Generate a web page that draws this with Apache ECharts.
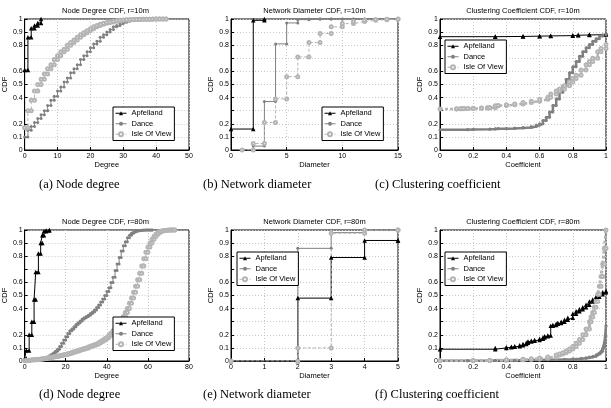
<!DOCTYPE html>
<html>
<head>
<meta charset="utf-8">
<script src="https://cdn.jsdelivr.net/npm/echarts@6/dist/echarts.min.js"></script>
<style>
  html, body { margin: 0; padding: 0; background: #fff; }
  #chart { width: 611px; height: 408px; }
</style>
</head>
<body>
<div id="chart"></div>
<script>
// series names and panel texts
const seriesNames = ['Apfelland', 'Dance', 'Isle Of View'];
const panelTitles = [
    'Node Degree CDF, r=10m', 'Network Diameter CDF, r=10m', 'Clustering Coefficient CDF, r=10m',
    'Node Degree CDF, r=80m', 'Network Diameter CDF, r=80m', 'Clustering Coefficient CDF, r=80m'
];
const captions = [
    '(a) Node degree', '(b) Network diameter', '(c) Clustering coefficient',
    '(d) Node degree', '(e) Network diameter', '(f) Clustering coefficient'
];
const xNames = ['Degree', 'Diameter', 'Coefficient', 'Degree', 'Diameter', 'Coefficient'];
const xMax = [50, 15, 1, 80, 5, 1];
const xStep = [10, 5, 0.2, 20, 1, 0.2];

// (a) node degree, r=10m
const degree10 = [0,1,2,3,4,5,6,7,8,9,10,11,12,13,14,15,16,17,18,19,20,21,22,23,24,25,26,27,28,29,30,31,32,33,34,35,36,37,38,39,40,41,42,43];
const apfDeg10X = [0, 1, 2, 3, 4, 5];
const apfDeg10 = [0.61, 0.86, 0.93, 0.95, 0.97, 1.0];
const danceDeg10 = [0.10,0.15,0.18,0.21,0.24,0.27,0.30,0.34,0.38,0.41,0.45,0.48,0.52,0.55,0.59,0.62,0.65,0.69,0.72,0.75,0.78,0.81,0.83,0.86,0.88,0.90,0.92,0.94,0.95,0.965,0.975,0.983,0.99,0.993,0.996,0.998,0.999,1.0,1.0,1.0,1.0];
const isleDeg10 = [0.17,0.30,0.38,0.45,0.50,0.54,0.58,0.62,0.65,0.69,0.72,0.75,0.77,0.80,0.82,0.84,0.86,0.88,0.895,0.91,0.925,0.94,0.95,0.96,0.967,0.973,0.978,0.983,0.987,0.99,0.992,0.994,0.995,0.996,0.997,0.998,0.998,0.999,0.999,1.0,1.0,1.0,1.0,1.0];

// (b) network diameter, r=10m
const apfDiam10X = [0, 2, 3];
const apfDiam10 = [0.16, 0.99, 1.0];
const diam10X = [1,2,3,4,5,6,7,8,9,10,11,12,13,14,15];
const danceDiam10 = [0, 0.03, 0.37, 0.81, 0.97, 0.995, 1, 1, 1, 1, 1, 1, 1, 1, 1];
const isleDiam10 = [0, 0.05, 0.21, 0.39, 0.56, 0.71, 0.82, 0.89, 0.94, 0.965, 0.98, 0.99, 0.995, 0.998, 1.0];

// (c) clustering coefficient, r=10m
const apfClust10X = [0, 0.333, 0.5, 0.6, 0.667, 0.8, 0.833, 0.9, 1.0];
const apfClust10 = [0.865, 0.867, 0.869, 0.871, 0.873, 0.876, 0.878, 0.881, 0.89];
const danceClust10X = [0,0.167,0.2,0.3,0.333,0.35,0.4,0.45,0.5,0.55,0.58,0.6,0.62,0.64,0.66,0.68,0.7,0.72,0.74,0.76,0.78,0.8,0.82,0.84,0.86,0.88,0.9,0.92,0.94,0.96,0.98,1.0];
const danceClust10 = [0.155,0.157,0.158,0.16,0.162,0.163,0.165,0.168,0.172,0.18,0.19,0.2,0.225,0.25,0.29,0.34,0.39,0.44,0.49,0.54,0.59,0.635,0.675,0.715,0.75,0.78,0.805,0.83,0.85,0.87,0.88,0.89];
const isleClust10X = [0,0.1,0.125,0.143,0.167,0.2,0.25,0.286,0.3,0.333,0.35,0.4,0.45,0.5,0.55,0.6,0.65,0.667,0.7,0.72,0.75,0.78,0.8,0.82,0.85,0.88,0.9,0.92,0.95,0.97,1.0];
const isleClust10 = [0.313,0.314,0.315,0.316,0.317,0.318,0.32,0.322,0.323,0.338,0.34,0.345,0.352,0.362,0.373,0.387,0.402,0.427,0.45,0.466,0.49,0.52,0.545,0.57,0.61,0.65,0.675,0.70,0.75,0.775,0.805];

// (d) node degree, r=80m
const apfDeg80X = [0, 0.8, 2.2, 3.5, 4.6, 5.4, 6.7, 7.8, 8.6, 9.4, 10.5, 12];
const apfDeg80 = [0.02, 0.08, 0.2, 0.3, 0.47, 0.68, 0.82, 0.9, 0.96, 0.99, 0.997, 1.0];
const degree80 = [];
for (let d = 0; d <= 73; d++) degree80.push(d);
const danceDeg80 = [0.003,0.005,0.006,0.008,0.009,0.01,0.012,0.014,0.017,0.021,0.025,0.031,0.04,0.05,0.062,0.075,0.09,0.11,0.135,0.16,0.185,0.21,0.23,0.245,0.262,0.278,0.292,0.306,0.32,0.33,0.34,0.35,0.362,0.375,0.39,0.408,0.428,0.45,0.474,0.5,0.53,0.56,0.6,0.64,0.69,0.74,0.79,0.84,0.88,0.91,0.94,0.96,0.975,0.985,0.99,0.995,0.997,0.999,1,1,1,1,1];
const isleDeg80 = [0.002,0.004,0.006,0.007,0.009,0.01,0.012,0.014,0.016,0.018,0.02,0.023,0.026,0.029,0.032,0.035,0.038,0.041,0.044,0.047,0.05,0.055,0.06,0.065,0.07,0.075,0.08,0.085,0.09,0.095,0.1,0.106,0.112,0.118,0.124,0.13,0.139,0.148,0.158,0.169,0.18,0.196,0.212,0.23,0.246,0.262,0.28,0.31,0.34,0.37,0.4,0.44,0.48,0.525,0.57,0.62,0.67,0.725,0.78,0.83,0.87,0.9,0.93,0.952,0.97,0.982,0.99,0.994,0.997,0.999,1,1,1,1];

// (e) network diameter, r=80m
const diam80X = [0, 2, 3, 4, 5];
const apfDiam80 = [0, 0.48, 0.79, 0.92, 0.92];
const danceDiam80 = [0, 0.86, 0.98, 1.0, 1.0];
const isleDiam80 = [0, 0.1, 0.975, 1.0, 1.0];

// (f) clustering coefficient, r=80m
const apfClust80X = [0,0.333,0.4,0.43,0.45,0.48,0.5,0.52,0.53,0.55,0.57,0.6,0.62,0.63,0.65,0.667,0.68,0.7,0.71,0.73,0.75,0.77,0.8,0.82,0.84,0.86,0.88,0.9,0.92,0.94,0.96,0.98,1.0];
const apfClust80 = [0.09,0.10,0.105,0.108,0.112,0.12,0.13,0.14,0.148,0.155,0.16,0.17,0.18,0.188,0.195,0.27,0.275,0.285,0.29,0.3,0.315,0.33,0.36,0.38,0.395,0.41,0.43,0.455,0.47,0.49,0.51,0.525,0.535];
const danceClust80X = [0,0.167,0.3,0.333,0.4,0.45,0.5,0.55,0.6,0.65,0.7,0.75,0.8,0.85,0.88,0.9,0.92,0.94,0.95,0.96,0.97,0.98,0.985,0.99,0.995,1.0];
const danceClust80 = [0.001,0.002,0.003,0.004,0.005,0.006,0.007,0.008,0.009,0.01,0.012,0.014,0.017,0.021,0.025,0.03,0.036,0.045,0.052,0.062,0.075,0.095,0.11,0.14,0.19,0.27];
const isleClust80X = [0,0.2,0.3,0.4,0.5,0.55,0.6,0.65,0.7,0.72,0.74,0.76,0.78,0.8,0.82,0.84,0.86,0.88,0.9,0.91,0.92,0.93,0.94,0.95,0.96,0.97,0.98,0.99,1.0];
const isleClust80 = [0.003,0.004,0.006,0.009,0.014,0.018,0.023,0.031,0.045,0.053,0.063,0.076,0.092,0.11,0.135,0.165,0.2,0.245,0.3,0.335,0.37,0.41,0.455,0.51,0.57,0.645,0.74,0.86,1.0];

const FONT = '"Liberation Sans", Arial, sans-serif';
const SERIF = '"Liberation Serif", "DejaVu Serif", serif';

const boxes = [
    { left: 22, top: 19, width: 167, height: 131 },
    { left: 231, top: 19, width: 167, height: 131 },
    { left: 440, top: 19, width: 166, height: 131 },
    { left: 22, top: 230, width: 167, height: 131 },
    { left: 231, top: 230, width: 167, height: 131 },
    { left: 440, top: 230, width: 166, height: 131 }
];
const legendPos = [[113, 107], [322, 107], [445, 40], [113, 317], [237, 252], [445, 252]];
const captionX = [39, 203, 375, 39, 203, 375];

const styles = {
    'Apfelland': { color: '#000000', symbol: 'triangle', size: 4.5, type: 'solid', border: 0 },
    'Dance': { color: '#808080', symbol: 'circle', size: 3, type: 'solid', border: 0 },
    'Isle Of View': { color: '#b4b4b4', symbol: 'emptyCircle', size: 3, type: [3, 2], border: 1 }
};

// matlab-style stairs: horizontal then vertical, marker on every corner
function stairs(xs, ys) {
    const pts = [];
    for (let i = 0; i < ys.length; i++) {
        if (i > 0) pts.push([xs[i], ys[i - 1]]);
        pts.push([xs[i], ys[i]]);
    }
    return pts;
}

function makeSeries(name, idx, xs, ys, width) {
    const s = styles[name];
    return {
        type: 'line',
        name: name,
        xAxisIndex: idx,
        yAxisIndex: idx,
        data: stairs(xs, ys),
        symbol: s.symbol,
        symbolSize: s.size,
        showAllSymbol: true,
        lineStyle: { color: s.color, width: width || 1, type: s.type },
        itemStyle: { color: s.color, borderColor: s.color, borderWidth: s.border },
        emphasis: { disabled: true },
        animation: false
    };
}

const series = [
    makeSeries('Apfelland', 0, apfDeg10X, apfDeg10),
    makeSeries('Dance', 0, degree10, danceDeg10),
    makeSeries('Isle Of View', 0, degree10, isleDeg10),

    makeSeries('Apfelland', 1, apfDiam10X, apfDiam10),
    makeSeries('Dance', 1, diam10X, danceDiam10),
    makeSeries('Isle Of View', 1, diam10X, isleDiam10),

    makeSeries('Apfelland', 2, apfClust10X, apfClust10),
    makeSeries('Dance', 2, danceClust10X, danceClust10, 2.5),
    makeSeries('Isle Of View', 2, isleClust10X, isleClust10, 2.5),

    makeSeries('Apfelland', 3, apfDeg80X, apfDeg80),
    makeSeries('Dance', 3, degree80, danceDeg80),
    makeSeries('Isle Of View', 3, degree80, isleDeg80),

    makeSeries('Apfelland', 4, diam80X, apfDiam80),
    makeSeries('Dance', 4, diam80X, danceDiam80),
    makeSeries('Isle Of View', 4, diam80X, isleDiam80),

    makeSeries('Apfelland', 5, apfClust80X, apfClust80),
    makeSeries('Dance', 5, danceClust80X, danceClust80, 2.5),
    makeSeries('Isle Of View', 5, isleClust80X, isleClust80, 3)
];

const grids = boxes.map(b => ({
    left: b.left, top: b.top, width: b.width, height: b.height,
    show: true, borderColor: '#000', borderWidth: 1, backgroundColor: '#fff'
}));

const xAxes = boxes.map((b, i) => ({
    type: 'value',
    gridIndex: i,
    min: 0,
    max: xMax[i],
    interval: xStep[i],
    name: xNames[i],
    nameLocation: 'middle',
    nameGap: 10,
    nameTextStyle: { fontFamily: FONT, fontSize: 7.5, color: '#000' },
    axisLine: { lineStyle: { color: '#000', width: 1 } },
    axisTick: { inside: true, length: 3, lineStyle: { color: '#000' } },
    axisLabel: { fontFamily: FONT, fontSize: 7, color: '#000', margin: 3 },
    splitLine: { show: true, lineStyle: { color: '#c8c8c8', type: [1, 2] } }
}));

const yAxes = boxes.map((b, i) => ({
    type: 'value',
    gridIndex: i,
    min: 0,
    max: 1,
    interval: 0.1,
    name: 'CDF',
    nameLocation: 'middle',
    nameGap: 13,
    nameTextStyle: { fontFamily: FONT, fontSize: 7.5, color: '#000' },
    axisLine: { lineStyle: { color: '#000', width: 1 } },
    axisTick: { inside: true, length: 3, lineStyle: { color: '#000' } },
    axisLabel: {
        fontFamily: FONT, fontSize: 7, color: '#000', margin: 2,
        formatter: v => {
            const k = Math.round(v * 10);
            if (k === 3 || k === 7) return '';
            return String(k / 10);
        }
    },
    splitLine: { show: true, lineStyle: { color: '#c8c8c8', type: [1, 2] } }
}));

const legends = legendPos.map(p => ({
    left: p[0],
    top: p[1],
    orient: 'vertical',
    data: seriesNames,
    itemWidth: 11,
    itemHeight: 5,
    itemGap: 2,
    itemTextGap: 3,
    padding: [2, 3, 2, 2],
    borderColor: '#000',
    borderWidth: 1,
    backgroundColor: '#fff',
    selectedMode: false,
    itemStyle: { borderWidth: 0 },
    lineStyle: { width: 1 },
    textStyle: { fontFamily: FONT, fontSize: 7.5, color: '#000', lineHeight: 8.5 }
}));

const texts = [];
boxes.forEach((b, i) => {
    texts.push({
        type: 'text',
        x: b.left + b.width / 2,
        y: i < 3 ? 11 : 221.5,
        style: { text: panelTitles[i], font: '7.5px ' + FONT, fill: '#000', textAlign: 'center', textVerticalAlign: 'middle' }
    });
    texts.push({
        type: 'text',
        x: captionX[i],
        y: i < 3 ? 185 : 395,
        style: { text: captions[i], font: '12.5px ' + SERIF, fill: '#000', textAlign: 'left', textVerticalAlign: 'middle' }
    });
});

const chart = echarts.init(document.getElementById('chart'));
chart.setOption({
    backgroundColor: '#fff',
    animation: false,
    grid: grids,
    xAxis: xAxes,
    yAxis: yAxes,
    legend: legends,
    series: series,
    graphic: { elements: texts }
});
</script>
</body>
</html>
